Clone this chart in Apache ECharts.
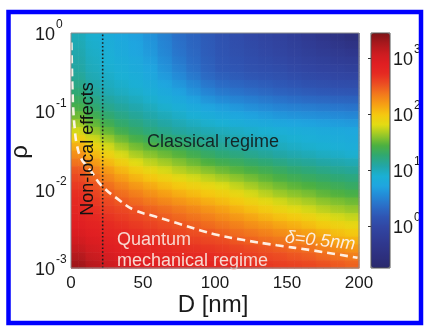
<!DOCTYPE html>
<html><head><meta charset="utf-8">
<script src="https://cdn.jsdelivr.net/npm/echarts@6/dist/echarts.min.js"></script>
<style>html,body{margin:0;padding:0;background:#fff}#c{width:424px;height:326px}</style>
</head><body><div id="c"></div>
<script>
// ---- data ----
// cell centres: particle size D [nm] (columns) and log10(rho) (rows, top to bottom)
const dCenters = [5,15,25,35,45,55,65,75,85,95,105,115,125,135,145,155,165,175,185,195];
const logRhoCenters = [-0.05,-0.15,-0.25,-0.35,-0.45,-0.55,-0.65,-0.75,-0.85,-0.95,-1.05,-1.15,-1.25,-1.35,-1.45,-1.55,-1.65,-1.75,-1.85,-1.95,-2.05,-2.15,-2.25,-2.35,-2.45,-2.55,-2.65,-2.75,-2.85,-2.95];
// log10 of the colour-coded quantity, estimated from the colours
const log10Field = [
[1.01,0.91,0.83,0.76,0.69,0.60,0.48,0.36,0.28,0.20,0.13,0.07,0.01,-0.05,-0.11,-0.18,-0.27,-0.36,-0.46,-0.55],
[1.03,0.93,0.85,0.78,0.71,0.62,0.50,0.38,0.29,0.21,0.14,0.08,0.03,-0.02,-0.08,-0.15,-0.22,-0.29,-0.37,-0.44],
[1.05,0.95,0.87,0.80,0.73,0.64,0.52,0.40,0.31,0.22,0.15,0.10,0.05,0.00,-0.05,-0.11,-0.17,-0.23,-0.28,-0.33],
[1.07,0.97,0.89,0.83,0.77,0.68,0.56,0.44,0.34,0.24,0.17,0.13,0.08,0.04,0.00,-0.05,-0.11,-0.15,-0.20,-0.23],
[1.09,0.99,0.91,0.86,0.80,0.72,0.60,0.48,0.37,0.27,0.19,0.16,0.11,0.08,0.05,0.00,-0.04,-0.08,-0.11,-0.14],
[1.13,1.02,0.94,0.89,0.84,0.76,0.65,0.54,0.43,0.32,0.25,0.21,0.17,0.14,0.11,0.07,0.03,0.01,-0.02,-0.04],
[1.19,1.07,0.98,0.93,0.88,0.81,0.72,0.62,0.52,0.41,0.34,0.30,0.26,0.23,0.19,0.16,0.12,0.10,0.07,0.06],
[1.25,1.12,1.02,0.97,0.92,0.86,0.78,0.70,0.60,0.50,0.43,0.39,0.35,0.31,0.27,0.24,0.21,0.19,0.17,0.16],
[1.33,1.20,1.10,1.04,0.98,0.92,0.85,0.78,0.70,0.61,0.55,0.51,0.47,0.43,0.39,0.36,0.33,0.31,0.29,0.28],
[1.41,1.28,1.17,1.11,1.05,0.99,0.92,0.86,0.79,0.72,0.67,0.63,0.58,0.54,0.50,0.48,0.46,0.44,0.42,0.40],
[1.52,1.38,1.27,1.19,1.12,1.06,1.00,0.94,0.88,0.83,0.78,0.74,0.70,0.66,0.62,0.60,0.58,0.56,0.54,0.52],
[1.65,1.50,1.38,1.28,1.21,1.14,1.08,1.02,0.97,0.92,0.89,0.85,0.81,0.78,0.75,0.72,0.70,0.68,0.66,0.64],
[1.78,1.62,1.50,1.38,1.29,1.22,1.16,1.10,1.06,1.02,0.99,0.96,0.93,0.90,0.87,0.84,0.82,0.80,0.78,0.76],
[1.95,1.77,1.64,1.52,1.41,1.34,1.28,1.22,1.16,1.11,1.07,1.03,1.00,0.96,0.93,0.90,0.87,0.85,0.82,0.80],
[2.12,1.92,1.78,1.65,1.54,1.46,1.40,1.34,1.27,1.20,1.14,1.10,1.07,1.03,0.99,0.95,0.92,0.90,0.87,0.84],
[2.26,2.07,1.92,1.79,1.67,1.59,1.52,1.46,1.38,1.31,1.25,1.21,1.16,1.12,1.08,1.04,1.01,0.97,0.94,0.91],
[2.38,2.21,2.06,1.93,1.81,1.72,1.65,1.58,1.51,1.44,1.38,1.34,1.29,1.25,1.20,1.15,1.12,1.08,1.05,1.02],
[2.50,2.35,2.20,2.07,1.95,1.86,1.78,1.70,1.64,1.58,1.52,1.47,1.42,1.37,1.32,1.27,1.23,1.19,1.15,1.12],
[2.57,2.44,2.30,2.19,2.08,2.00,1.92,1.84,1.78,1.72,1.66,1.60,1.54,1.48,1.42,1.37,1.33,1.29,1.25,1.22],
[2.64,2.53,2.41,2.31,2.21,2.13,2.05,1.98,1.92,1.86,1.80,1.73,1.66,1.59,1.53,1.48,1.44,1.39,1.35,1.31],
[2.70,2.60,2.49,2.41,2.33,2.25,2.18,2.11,2.05,1.99,1.93,1.86,1.78,1.71,1.64,1.59,1.55,1.49,1.45,1.41],
[2.74,2.65,2.56,2.49,2.42,2.36,2.29,2.23,2.17,2.11,2.05,1.98,1.91,1.84,1.77,1.71,1.66,1.60,1.56,1.52],
[2.78,2.70,2.62,2.57,2.52,2.46,2.41,2.35,2.29,2.23,2.17,2.10,2.03,1.96,1.89,1.83,1.77,1.71,1.66,1.62],
[2.84,2.76,2.68,2.63,2.58,2.53,2.48,2.43,2.38,2.33,2.27,2.21,2.15,2.08,2.02,1.97,1.91,1.84,1.78,1.74],
[2.89,2.82,2.74,2.69,2.64,2.60,2.55,2.51,2.47,2.42,2.37,2.32,2.26,2.21,2.15,2.10,2.04,1.97,1.91,1.86],
[2.96,2.88,2.80,2.75,2.70,2.66,2.62,2.58,2.54,2.51,2.46,2.41,2.37,2.32,2.27,2.22,2.17,2.10,2.03,1.98],
[3.04,2.95,2.86,2.80,2.76,2.72,2.68,2.64,2.61,2.58,2.55,2.50,2.46,2.41,2.37,2.33,2.28,2.21,2.15,2.10],
[3.12,3.02,2.92,2.86,2.82,2.78,2.74,2.70,2.68,2.66,2.63,2.59,2.55,2.51,2.47,2.43,2.39,2.33,2.27,2.22],
[3.21,3.10,3.00,2.93,2.88,2.84,2.80,2.76,2.74,2.72,2.69,2.65,2.62,2.58,2.55,2.51,2.48,2.43,2.38,2.34],
[3.30,3.18,3.08,3.00,2.94,2.90,2.86,2.82,2.80,2.78,2.75,2.72,2.69,2.65,2.62,2.60,2.57,2.53,2.49,2.45]
];
// dashed delta = 0.5 nm boundary
const deltaD = [0.3,0.6,1.0,1.6,2.6,4,7,11,15.3,20.8,34.7,44,58,74,90,102,119,143,166,199];
const deltaLogRho = [-0.12,-0.4,-0.7,-0.98,-1.22,-1.42,-1.6,-1.7,-1.8,-1.94,-2.15,-2.26,-2.34,-2.43,-2.52,-2.58,-2.64,-2.71,-2.77,-2.87];
// dotted non-local limit
const nonlocalD = [22, 22];
const nonlocalLogRho = [-3, 0];
// tick labels
const xTicks = [0, 50, 100, 150, 200];
const yExponents = [-3, -2, -1, 0];
const cbExponents = [0, 1, 2, 3];
const cbRange = [-0.75, 3.45];

const FONT = '"Liberation Sans", Arial, Helvetica, sans-serif';
const colours = ['#2b2a6c','#2d2f7c','#2f3589','#303d96','#3146a3','#2f55b3','#2b6cc6','#2488d6','#1fa5e0','#1bb0d4','#22a6a6','#2fa872','#4cb040','#98c828','#e2dc14','#f5c810','#f6a014','#f27a1c','#ec4e22','#e62a22','#e01e22','#cc1c20','#a8181c','#7e1418'];

const nCols = dCenters.length, nRows = logRhoCenters.length;
const cells = [];
log10Field.forEach((row, i) => row.forEach((v, j) => cells.push([dCenters[j], logRhoCenters[i], v])));
const halfD = (dCenters[1] - dCenters[0]) / 2;
const halfR = Math.abs(logRhoCenters[1] - logRhoCenters[0]) / 2;

function grad(horizontal, c0, c1) {
  return {type: 'linear', x: 0, y: 0, x2: horizontal ? 1 : 0, y2: horizontal ? 0 : 1,
          colorStops: [{offset: 0, color: c0}, {offset: 1, color: c1}]};
}
function box(x, y, w, h, fill, opacity) {
  return {type: 'rect', shape: {x: x, y: y, width: w + 0.5, height: h + 0.5}, style: {fill: fill, opacity: opacity}};
}
// layer blending colours between neighbouring cell centres along D
function renderAlongD(params, api) {
  const idx = params.dataIndexInside, j = idx % nCols;
  const d = api.value(0), r = api.value(1), c0 = api.visual('color');
  const top = api.coord([d, r + halfR])[1], bot = api.coord([d, r - halfR])[1];
  const xc = api.coord([d, r])[0];
  const kids = [];
  if (j === 0) { const xl = api.coord([d - halfD, r])[0]; kids.push(box(xl, top, xc - xl, bot - top, c0, 1)); }
  if (j < nCols - 1) {
    const xn = api.coord([api.value(0, idx + 1), r])[0];
    kids.push(box(xc, top, xn - xc, bot - top, grad(true, c0, api.visual('color', idx + 1)), 1));
  } else {
    const xr = api.coord([d + halfD, r])[0]; kids.push(box(xc, top, xr - xc, bot - top, c0, 1));
  }
  return {type: 'group', children: kids};
}
// layer blending colours between neighbouring cell centres along rho (drawn half transparent on top)
function renderAlongRho(params, api) {
  const idx = params.dataIndexInside, i = Math.floor(idx / nCols);
  const d = api.value(0), r = api.value(1), c0 = api.visual('color');
  const left = api.coord([d - halfD, r])[0], right = api.coord([d + halfD, r])[0];
  const yc = api.coord([d, r])[1];
  const kids = [];
  if (i === 0) { const yt = api.coord([d, r + halfR])[1]; kids.push(box(left, yt, right - left, yc - yt, c0, 0.5)); }
  if (i < nRows - 1) {
    const yn = api.coord([d, api.value(1, idx + nCols)])[1];
    kids.push(box(left, yc, right - left, yn - yc, grad(false, c0, api.visual('color', idx + nCols)), 0.5));
  } else {
    const yb = api.coord([d, r - halfR])[1]; kids.push(box(left, yc, right - left, yb - yc, c0, 0.5));
  }
  return {type: 'group', children: kids};
}

const chart = echarts.init(document.getElementById('c'), null, {renderer: 'canvas'});
const supRich = {
  b: {fontSize: 18, fontFamily: FONT, color: '#1a1a1a', padding: [0,0,3,0], verticalAlign: 'bottom'},
  e: {fontSize: 12, lineHeight: 28, fontFamily: FONT, color: '#1a1a1a', padding: [0,0,0,1], verticalAlign: 'top'}
};
chart.setOption({
  backgroundColor: '#ffffff',
  animation: false,
  grid: [
    {left: 71, top: 33, width: 288, height: 235, show: false},
    {left: 371, top: 33, width: 19, height: 235, show: false}
  ],
  xAxis: [
    {gridIndex: 0, type: 'value', min: xTicks[0], max: xTicks[xTicks.length-1], interval: 50,
     axisLine: {show: false}, axisTick: {show: false}, splitLine: {show: false},
     axisLabel: {fontSize: 17, color: '#1a1a1a', margin: 7, fontFamily: FONT}},
    {gridIndex: 1, type: 'value', min: 0, max: 1, show: false}
  ],
  yAxis: [
    {gridIndex: 0, type: 'value', min: yExponents[0], max: yExponents[yExponents.length-1], interval: 1,
     axisLine: {show: false}, axisTick: {show: false}, splitLine: {show: false},
     axisLabel: {margin: 36, align: 'left', formatter: v => '{b|10}{e|' + v + '}', rich: supRich}},
    {gridIndex: 1, type: 'value', position: 'right', min: cbRange[0], max: cbRange[1],
     axisLine: {show: false}, splitLine: {show: false},
     axisTick: {show: true, inside: true, length: 3, customValues: cbExponents, lineStyle: {color: '#333', width: 1}},
     axisLabel: {margin: 3, customValues: cbExponents, formatter: v => '{b|10}{e|' + v + '}', rich: supRich}}
  ],
  visualMap: {
    type: 'continuous', min: cbRange[0], max: cbRange[1], dimension: 2, seriesIndex: [0, 1],
    inRange: {color: colours}, orient: 'vertical', left: 371, top: 33, padding: 0,
    itemWidth: 19, itemHeight: 235, calculable: false, showLabel: false, hoverLink: false, text: null
  },
  series: [
    {type: 'custom', xAxisIndex: 0, yAxisIndex: 0, data: cells, silent: true, z: 1,
     encode: {x: 0, y: 1}, renderItem: renderAlongD},
    {type: 'custom', xAxisIndex: 0, yAxisIndex: 0, data: cells, silent: true, z: 2,
     encode: {x: 0, y: 1}, renderItem: renderAlongRho},
    {type: 'line', xAxisIndex: 0, yAxisIndex: 0, data: deltaD.map((d, i) => [d, deltaLogRho[i]]),
     smooth: true, symbol: 'none', silent: true, z: 5,
     lineStyle: {color: 'rgba(255,246,236,0.95)', width: 2.6, type: [8, 5]}},
    {type: 'line', xAxisIndex: 0, yAxisIndex: 0, data: nonlocalD.map((d, i) => [d, nonlocalLogRho[i]]),
     symbol: 'none', silent: true, z: 5,
     lineStyle: {color: '#1e1e1e', width: 1.6, type: [1.6, 2.2]}}
  ],
  graphic: [
    {type: 'rect', z: 50, shape: {x: 71, y: 33, width: 288, height: 235}, style: {fill: null, stroke: '#8c8c8c', lineWidth: 1}},
    {type: 'rect', z: 50, shape: {x: 371, y: 33, width: 19, height: 235}, style: {fill: null, stroke: '#555', lineWidth: 1}},
    {type: 'rect', z: 60, shape: {x: 8.5, y: 12, width: 412.5, height: 311}, style: {fill: null, stroke: '#0000ff', lineWidth: 4.5}},
    {type: 'text', z: 40, x: 213, y: 142, style: {text: 'Classical regime', fontSize: 18, fontFamily: FONT, fill: '#142626', align: 'center', verticalAlign: 'middle'}},
    {type: 'text', z: 40, x: 88, y: 149, rotation: Math.PI / 2, style: {text: 'Non-local effects', fontSize: 18, fontFamily: FONT, fill: '#111', align: 'center', verticalAlign: 'middle'}},
    {type: 'text', z: 40, x: 117, y: 240, style: {text: 'Quantum', fontSize: 18, fontFamily: FONT, fill: '#f8d8d0', align: 'left', verticalAlign: 'middle'}},
    {type: 'text', z: 40, x: 117, y: 261, style: {text: 'mechanical regime', fontSize: 18, fontFamily: FONT, fill: '#f8d8d0', align: 'left', verticalAlign: 'middle'}},
    {type: 'text', z: 40, x: 320, y: 241, rotation: -0.1, style: {text: 'δ=0.5nm', fontSize: 18, fontFamily: FONT, fontStyle: 'italic', fill: '#fbeee2', align: 'center', verticalAlign: 'middle'}},
    {type: 'text', z: 40, x: 213, y: 305, style: {text: 'D [nm]', fontSize: 24, fontFamily: FONT, fill: '#1a1a1a', align: 'center', verticalAlign: 'middle'}},
    {type: 'text', z: 40, x: 20, y: 152, rotation: Math.PI / 2, style: {text: 'ρ', fontSize: 24, fontFamily: FONT, fill: '#1a1a1a', align: 'center', verticalAlign: 'middle'}}
  ]
});
</script></body></html>
